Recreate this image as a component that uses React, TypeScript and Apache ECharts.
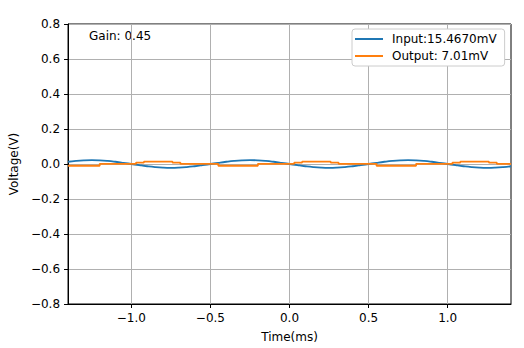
import React, { useEffect, useRef } from "react";
import * as echarts from "echarts";

const inputTimes = [
  -1.4, -1.35, -1.3, -1.25, -1.2, -1.15, -1.1, -1.05, -1.0, -0.95, -0.9, -0.85, -0.8, -0.75, -0.7,
  -0.65, -0.6, -0.55, -0.5, -0.45, -0.4, -0.35, -0.3, -0.25, -0.2, -0.15, -0.1, -0.05, 0.0, 0.05,
  0.1, 0.15, 0.2, 0.25, 0.3, 0.35, 0.4, 0.45, 0.5, 0.55, 0.6, 0.65, 0.7, 0.75, 0.8, 0.85, 0.9,
  0.95, 1.0, 1.05, 1.1, 1.15, 1.2, 1.25, 1.3, 1.35, 1.4,
];
const inputValues = [
  0.0129, 0.0178, 0.0209, 0.022, 0.0209, 0.0178, 0.0129, 0.0068, 0.0, -0.0068, -0.0129, -0.0178,
  -0.0209, -0.022, -0.0209, -0.0178, -0.0129, -0.0068, 0.0, 0.0068, 0.0129, 0.0178, 0.0209, 0.022,
  0.0209, 0.0178, 0.0129, 0.0068, 0.0, -0.0068, -0.0129, -0.0178, -0.0209, -0.022, -0.0209,
  -0.0178, -0.0129, -0.0068, 0.0, 0.0068, 0.0129, 0.0178, 0.0209, 0.022, 0.0209, 0.0178, 0.0129,
  0.0068, 0.0, -0.0068, -0.0129, -0.0178, -0.0209, -0.022, -0.0209, -0.0178, -0.0129,
];

// Output: quantized staircase, each entry holds its level from its time to the next time
const outputTimes = [
  -1.4, -1.2, -0.97, -0.92, -0.74, -0.69, -0.45, -0.2, 0.03, 0.08, 0.26, 0.31, 0.55, 0.8, 1.03,
  1.08, 1.26, 1.31, 1.4,
];
const outputValues = [
  -0.01, 0.001, 0.008, 0.014, 0.008, 0.001, -0.01, 0.001, 0.008, 0.014, 0.008, 0.001, -0.01,
  0.001, 0.008, 0.014, 0.008, 0.001, 0.001,
];

const xTickValues = [-1.0, -0.5, 0.0, 0.5, 1.0];
const inputLabel = "Input:15.4670mV";
const outputLabel = "Output: 7.01mV";
const gainText = "Gain: 0.45";

const FONT = "DejaVu Sans";
const FS = 12;
const fmt = (v: number) => {
  const s = (Math.abs(v) < 1e-9 ? 0 : v).toFixed(1);
  return s.replace("-", "\u2212");
};

export default function App() {
  const ref = useRef<HTMLDivElement>(null);
  useEffect(() => {
    if (!ref.current) return;
    const chart = echarts.init(ref.current, null, { renderer: "svg" });
    const option: any = {
      animation: false,
      backgroundColor: "#fff",
      textStyle: { fontFamily: FONT },
      grid: {
        left: 65,
        right: 13,
        top: 24,
        bottom: 41,
        show: true,
        borderColor: "#000",
        borderWidth: 1,
        backgroundColor: "transparent",
      },
      legend: {
        orient: "vertical",
        left: 352,
        top: 29,
        padding: [4, 8, 4, 3],
        backgroundColor: "#fff",
        borderColor: "#cccccc",
        borderWidth: 1,
        borderRadius: 3,
        icon: "rect",
        itemWidth: 28,
        itemHeight: 2,
        itemGap: 5,
        textStyle: { fontFamily: FONT, fontSize: FS, color: "#000", padding: [0, 0, 0, 4] },
        data: [inputLabel, outputLabel],
      },
      graphic: [
        {
          type: "text",
          left: 89,
          top: 30,
          style: { text: gainText, fontFamily: FONT, fontSize: FS, fill: "#000" },
        },
      ],
      xAxis: {
        type: "value",
        min: -1.4,
        max: 1.4,
        name: "Time(ms)",
        nameLocation: "middle",
        nameGap: 27,
        nameTextStyle: { fontFamily: FONT, fontSize: FS, color: "#000" },
        axisLine: { show: true, onZero: false, lineStyle: { color: "#000", width: 1 } },
        axisTick: {
          show: true,
          length: 4,
          lineStyle: { color: "#000" },
          customValues: xTickValues,
        },
        axisLabel: {
          customValues: xTickValues,
          formatter: (v: number) => fmt(v),
          fontFamily: FONT,
          fontSize: FS,
          color: "#000",
          margin: 8,
        },
        splitLine: { show: true, lineStyle: { color: "#b0b0b0", width: 1 } },
      },
      yAxis: {
        type: "value",
        min: -0.8,
        max: 0.8,
        interval: 0.2,
        name: "Voltage(V)",
        nameLocation: "middle",
        nameRotate: 90,
        nameGap: 43,
        nameTextStyle: { fontFamily: FONT, fontSize: FS, color: "#000" },
        axisLine: { show: true, onZero: false, lineStyle: { color: "#000", width: 1 } },
        axisTick: { show: true, length: 4, lineStyle: { color: "#000" } },
        axisLabel: {
          formatter: (v: number) => fmt(v),
          fontFamily: FONT,
          fontSize: FS,
          color: "#000",
          margin: 8,
        },
        splitLine: { show: true, lineStyle: { color: "#b0b0b0", width: 1 } },
      },
      series: [
        {
          name: inputLabel,
          type: "line",
          data: inputTimes.map((t, i) => [t, inputValues[i]]),
          smooth: true,
          showSymbol: false,
          symbol: "none",
          color: "#1f77b4",
          lineStyle: { color: "#1f77b4", width: 1.8 },
        },
        {
          name: outputLabel,
          type: "line",
          step: "end",
          data: outputTimes.map((t, i) => [t, outputValues[i]]),
          showSymbol: false,
          symbol: "none",
          color: "#ff7f0e",
          lineStyle: { color: "#ff7f0e", width: 1.8 },
        },
      ],
    };
    chart.setOption(option);
    return () => chart.dispose();
  }, []);
  return (
    <div
      ref={ref}
      style={{ position: "fixed", left: 0, top: 0, width: 524, height: 348, background: "#fff" }}
    />
  );
}
